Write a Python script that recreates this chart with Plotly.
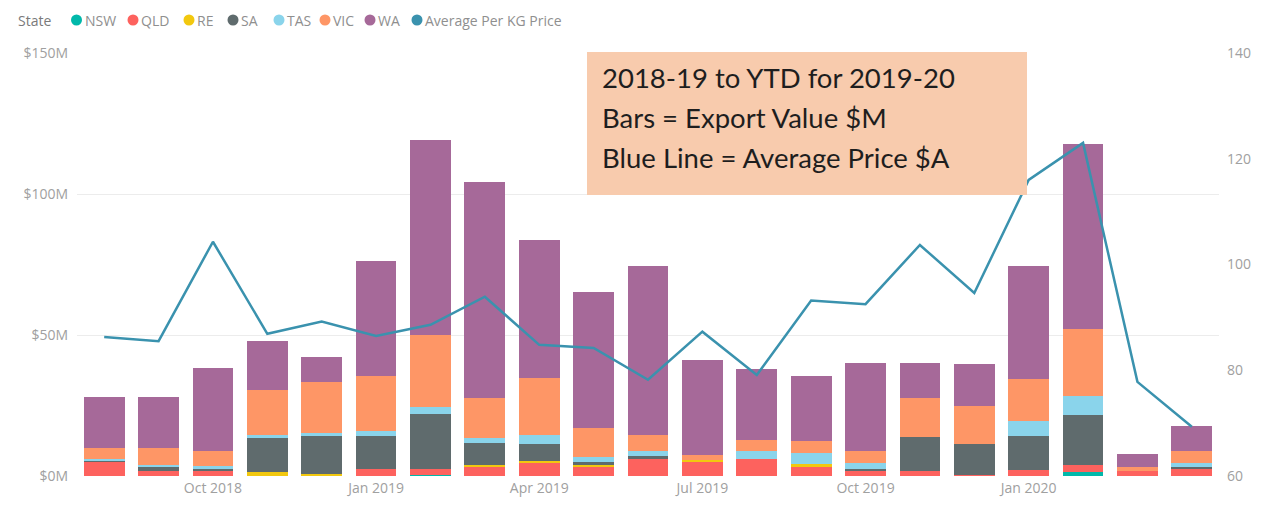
import plotly.graph_objects as go

months = ["Aug 2018", "Sep 2018", "Oct 2018", "Nov 2018", "Dec 2018", "Jan 2019", "Feb 2019",
          "Mar 2019", "Apr 2019", "May 2019", "Jun 2019", "Jul 2019", "Aug 2019", "Sep 2019",
          "Oct 2019", "Nov 2019", "Dec 2019", "Jan 2020", "Feb 2020", "Mar 2020", "Apr 2020"]
tick_months = ["Oct 2018", "Jan 2019", "Apr 2019", "Jul 2019", "Oct 2019", "Jan 2020"]

# Export value, $M
nsw = [0, 0, 0, 0, 0, 0, 0.4, 0, 0, 0, 0, 0, 0, 0, 0, 0, 0, 0, 1.4, 0, 0]
qld = [5.0, 1.7, 1.7, 0, 0.3, 2.5, 2.1, 3.5, 4.9, 3.5, 6.0, 5.0, 6.0, 3.2, 1.8, 1.8, 0.5, 2.1, 2.5, 1.8, 2.5]
re = [0, 0, 0, 1.4, 0.3, 0, 0, 0.5, 0.5, 0.5, 0, 0.8, 0, 1.0, 0, 0, 0, 0, 0, 0, 0]
sa = [0.5, 1.7, 1.0, 12.3, 13.7, 11.6, 19.4, 7.7, 6.0, 1.0, 1.0, 0, 0, 0, 0.7, 12.0, 10.9, 12.0, 17.6, 0, 0.7]
tas = [0.4, 0.6, 0.7, 0.7, 1.0, 1.8, 2.5, 1.8, 3.2, 1.8, 1.8, 0, 2.8, 3.9, 2.1, 0, 0, 5.3, 7.0, 0, 1.4]
vic = [4.2, 6.0, 5.6, 16.2, 18.0, 19.4, 25.7, 14.0, 20.0, 10.2, 5.6, 1.7, 3.9, 4.2, 4.2, 14.0, 13.4, 15.1, 23.6, 1.4, 4.2]
wa = [18.0, 18.0, 29.2, 17.3, 8.8, 40.8, 69.0, 76.8, 49.0, 48.2, 60.2, 33.8, 25.4, 23.2, 31.3, 12.3, 14.8, 40.1, 65.5, 4.6, 8.8]
avg_price = [86.3, 85.5, 104.3, 86.9, 89.2, 86.5, 88.6, 93.9, 84.8, 84.2, 78.2, 87.3, 79.1, 93.2,
             92.5, 103.7, 94.6, 116.0, 123.0, 77.8, 69.3]

legend_title = "State"
states = [("NSW", nsw, "#01B8AA"), ("QLD", qld, "#FD625E"), ("RE", re, "#F2C80F"),
          ("SA", sa, "#5F6B6D"), ("TAS", tas, "#8AD4EB"), ("VIC", vic, "#FE9666"),
          ("WA", wa, "#A66999")]
line_name = "Average Per KG Price"
line_color = "#3A92AE"
note_lines = ["2018-19 to YTD for 2019-20", "Bars = Export Value $M", "Blue Line = Average Price $A"]

fig = go.Figure()
for name, vals, col in states:
    fig.add_trace(go.Bar(x=months, y=vals, name=name, marker=dict(color=col, line=dict(width=0))))
fig.add_trace(go.Scatter(x=months, y=avg_price, name=line_name, yaxis="y2",
                         mode="lines", line=dict(color=line_color, width=2.5)))

# The page body has an 8px default margin; size the figure so it fills the window exactly.
OFF = 8
W, H = 1269 - 2 * OFF, 505 - 2 * OFF
# plot area in page pixels
PX0, PX1, PY0, PY1 = 77, 1219, 53, 476
L, R = PX0 - OFF, (OFF + W) - PX1
T, B = PY0 - OFF, (OFF + H) - PY1
pw, ph = PX1 - PX0, PY1 - PY0


def px(x):
    return (x - PX0) / pw


def py(y):
    return (PY1 - y) / ph


# manual legend (Power BI style: circle markers, compact)
leg_font = dict(family="Open Sans, sans-serif", size=14, color="#8f8f8f")
leg_y = 20
fig.add_annotation(text=legend_title, xref="paper", yref="paper", x=px(16), y=py(leg_y),
                   xanchor="left", yanchor="middle", showarrow=False,
                   font=dict(family="Open Sans, sans-serif", size=14, color="#7a7a7a"))
dot_x = [76.5, 133, 189, 233, 279, 325, 370, 417]
entries = [(n, c) for n, _, c in states] + [(line_name, line_color)]
for (name, col), dx in zip(entries, dot_x):
    r = 5.5
    fig.add_shape(type="circle", xref="paper", yref="paper", x0=px(dx - r), x1=px(dx + r),
                  y0=py(leg_y + r), y1=py(leg_y - r), fillcolor=col, line=dict(width=0))
    fig.add_annotation(text=name, xref="paper", yref="paper", x=px(dx + 6), y=py(leg_y),
                       xanchor="left", yanchor="middle", showarrow=False, font=leg_font)

# note box
fig.add_shape(type="rect", xref="paper", yref="paper", x0=px(587), x1=px(1027), y0=py(195), y1=py(52),
              fillcolor="#F8CBAD", line=dict(width=0), layer="above")
for txt, yy in zip(note_lines, [78, 117, 157]):
    fig.add_annotation(text=txt, xref="paper", yref="paper", x=px(600), y=py(yy), xanchor="left",
                       yanchor="middle", showarrow=False,
                       font=dict(family="Lato, Carlito, sans-serif", size=27.5, color="#1e1e1e"))

tick_font = dict(family="Open Sans, sans-serif", size=14, color="#a0a0a0")
fig.update_layout(
    width=W, height=H, margin=dict(l=L, r=R, t=T, b=B, autoexpand=False),
    barmode="stack", bargap=0.25, showlegend=False,
    plot_bgcolor="white", paper_bgcolor="white",
    xaxis=dict(type="category", tickvals=tick_months, ticktext=tick_months, showgrid=False,
               showline=False, ticks="", tickfont=tick_font, zeroline=False, ticklabelstandoff=2),
    yaxis=dict(range=[0, 150], tickvals=[0, 50, 100, 150], ticktext=["$0M", "$50M", "$100M", "$150M"],
               showgrid=True, gridcolor="#ececec", zeroline=False, tickfont=tick_font, ticks="",
               ticklabelstandoff=8),
    yaxis2=dict(range=[60, 140], tickvals=[60, 80, 100, 120, 140], overlaying="y", side="right",
                showgrid=False, zeroline=False, tickfont=tick_font, ticks="", ticklabelstandoff=7),
)

fig.write_html("out.html")
